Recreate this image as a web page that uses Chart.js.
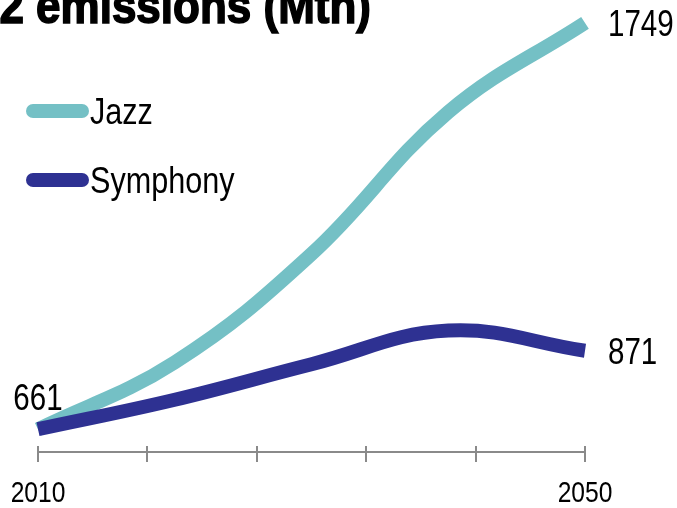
<!DOCTYPE html>
<html>
<head>
<meta charset="utf-8">
<script src="https://cdn.jsdelivr.net/npm/chart.js@4/dist/chart.umd.min.js"></script>
<style>
  html, body { margin: 0; padding: 0; background: #ffffff; overflow: hidden; }
  #wrap { width: 677px; height: 508px; position: relative; }
</style>
</head>
<body>
<div id="wrap"><canvas id="chart"></canvas></div>
<script>
// ---- data ----
const chartTitle = 'CO2 emissions (Mth)';
const years = [2010, 2020, 2030, 2040, 2050];
const jazzLabel = 'Jazz';
const jazzValues = [661, 840, 1130, 1510, 1749];
const symphonyLabel = 'Symphony';
const symphonyValues = [661, 740, 835, 925, 871];
const labelledYears = [2010, 2050];

// ---- look ----
const JAZZ_COLOR = '#74c0c5';
const SYMPHONY_COLOR = '#2e3192';
const AXIS_COLOR = '#8a8a8a';
const TEXT_COLOR = '#000000';
const SANS = '"Liberation Sans", Arial, sans-serif';

const toPoints = (vals) => vals.map((v, i) => ({ x: years[i], y: v }));

// condensed text: the sans face squeezed horizontally
function narrowText(ctx, text, x, y, size, align, squeeze, weight) {
  ctx.save();
  ctx.font = (weight || 'normal') + ' ' + size + 'px ' + SANS;
  ctx.textAlign = align;
  ctx.textBaseline = 'alphabetic';
  ctx.translate(x, y);
  ctx.scale(squeeze, 1);
  ctx.fillText(text, 0, 0);
  ctx.restore();
}

// Axis labels, title, legend and value labels drawn on top of the plot
const overlay = {
  id: 'overlay',
  afterDatasetsDraw(chart) {
    const { ctx } = chart;
    const xs = chart.scales.x;
    const area = chart.chartArea;

    // upper half of the axis tick marks
    ctx.save();
    ctx.strokeStyle = AXIS_COLOR;
    ctx.lineWidth = 2;
    xs.ticks.forEach((t, i) => {
      const px = Math.round(xs.getPixelForTick(i));
      ctx.beginPath();
      ctx.moveTo(px, area.bottom - 6);
      ctx.lineTo(px, area.bottom);
      ctx.stroke();
    });
    ctx.restore();

    ctx.save();
    ctx.fillStyle = TEXT_COLOR;

    // year labels under the axis
    labelledYears.forEach((yr) => {
      narrowText(ctx, String(yr), xs.getPixelForValue(yr), 502, 30, 'center', 0.82);
    });

    // value labels at the ends of each line
    chart.data.datasets.forEach((ds, i) => {
      const meta = chart.getDatasetMeta(i);
      const end = meta.data[meta.data.length - 1];
      const v = ds.data[ds.data.length - 1].y;
      narrowText(ctx, String(v), end.x + 23, end.y + 13, 36, 'left', 0.82);
    });
    const start = chart.getDatasetMeta(1).data[0];
    narrowText(ctx, String(chart.data.datasets[1].data[0].y), start.x, start.y - 19, 36, 'center', 0.82);

    // legend
    chart.data.datasets.forEach((ds, i) => {
      const cy = 111 + i * 69;
      ctx.save();
      ctx.strokeStyle = ds.borderColor;
      ctx.lineWidth = 14;
      ctx.lineCap = 'round';
      ctx.beginPath();
      ctx.moveTo(33, cy);
      ctx.lineTo(82, cy);
      ctx.stroke();
      ctx.restore();
      narrowText(ctx, ds.label, 90, cy + 12.5, 36, 'left', 0.85);
    });
    ctx.restore();

    // title
    ctx.save();
    ctx.fillStyle = '#000000';
    ctx.strokeStyle = '#000000';
    ctx.lineWidth = 1.6;
    ctx.font = 'bold 50px ' + SANS;
    ctx.textAlign = 'right';
    ctx.textBaseline = 'alphabetic';
    ctx.translate(371, 23);
    ctx.scale(0.88, 1);
    ctx.fillText(chartTitle, 0, 0);
    ctx.strokeText(chartTitle, 0, 0);
    ctx.restore();
  }
};

new Chart(document.getElementById('chart'), {
  type: 'line',
  data: {
    datasets: [
      {
        label: jazzLabel,
        data: toPoints(jazzValues),
        borderColor: JAZZ_COLOR,
        backgroundColor: JAZZ_COLOR,
        borderWidth: 14,
        borderCapStyle: 'butt',
        tension: 0.4,
        pointRadius: 0,
        order: 1
      },
      {
        label: symphonyLabel,
        data: toPoints(symphonyValues),
        borderColor: SYMPHONY_COLOR,
        backgroundColor: SYMPHONY_COLOR,
        borderWidth: 14,
        borderCapStyle: 'butt',
        tension: 0.4,
        pointRadius: 0,
        order: 0
      }
    ]
  },
  options: {
    responsive: true,
    maintainAspectRatio: false,
    devicePixelRatio: 1,
    animation: false,
    clip: false,
    layout: { padding: { left: 38, right: 92, top: 0, bottom: 0 } },
    plugins: {
      legend: { display: false },
      tooltip: { enabled: false },
      title: { display: false }
    },
    scales: {
      x: {
        type: 'linear',
        min: years[0],
        max: years[years.length - 1],
        border: { display: true, color: AXIS_COLOR, width: 2 },
        grid: { display: true, drawOnChartArea: false, drawTicks: true, tickLength: 10, color: AXIS_COLOR, lineWidth: 2 },
        ticks: {
          stepSize: 8,
          autoSkip: false,
          maxRotation: 0,
          padding: 0,
          font: { size: 1 },
          callback: () => ''
        },
        afterFit: (scale) => { scale.height = 56; }
      },
      y: {
        display: false,
        min: 600,
        max: 1810
      }
    }
  },
  plugins: [overlay]
});
</script>
</body>
</html>
